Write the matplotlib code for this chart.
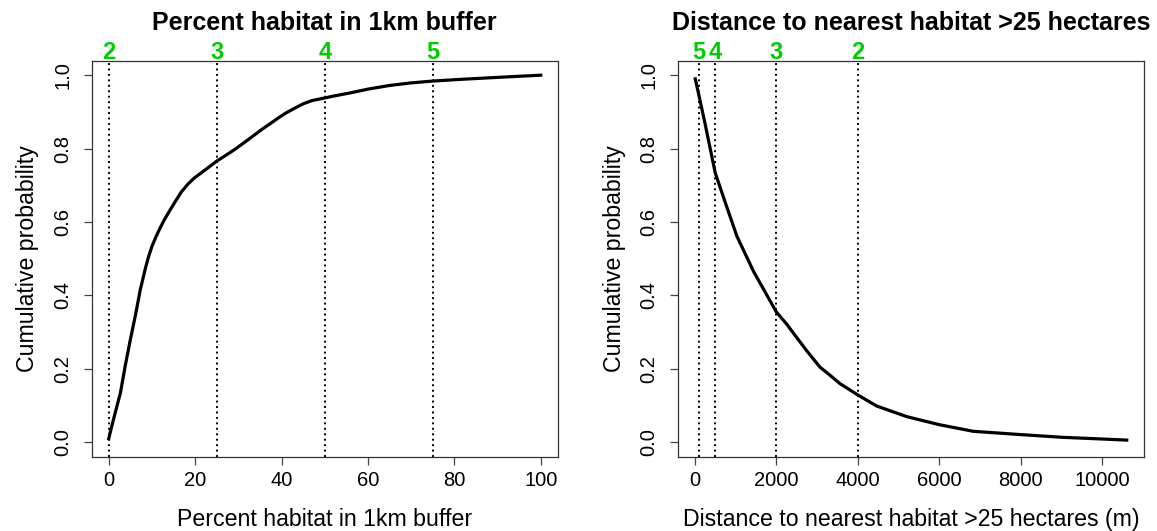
import numpy as np
import matplotlib
matplotlib.use("Agg")
import matplotlib.pyplot as plt

plt.rcParams['font.family'] = ['Liberation Sans', 'DejaVu Sans']

# left panel: percent habitat in 1km buffer
pct_x = [0, 0.5, 1.5, 2.7, 3.8, 5, 6.2, 7.3, 8.5, 9.2, 10, 11, 11.9, 12.8,
         13.8, 15.4, 16.8, 18.3, 19.8, 21.4, 23, 25, 27, 29.2, 32, 35.4,
         37.5, 39.3, 41, 43.2, 45, 47.1, 50, 52, 56, 60, 65, 70, 75, 82, 90, 100]
pct_y = [0.01, 0.035, 0.081, 0.135, 0.208, 0.28, 0.348, 0.416, 0.475, 0.505,
         0.534, 0.562, 0.584, 0.605, 0.625, 0.656, 0.682, 0.703, 0.72, 0.734,
         0.748, 0.766, 0.781, 0.798, 0.822, 0.852, 0.869, 0.884, 0.897, 0.911,
         0.922, 0.931, 0.938, 0.943, 0.952, 0.962, 0.972, 0.979, 0.984, 0.989,
         0.994, 1.0]
pct_cuts = [0, 25, 50, 75]
pct_cut_labels = ['2', '3', '4', '5']

# right panel: distance to nearest habitat >25 ha
dist_x = [10, 100, 250, 500, 750, 1033, 1443, 2000, 2250, 2496, 2741, 3069,
          3314, 3560, 4000, 4460, 5200, 6000, 6833, 8000, 9040, 10000, 10600]
dist_y = [0.99, 0.945, 0.868, 0.734, 0.652, 0.561, 0.465, 0.355, 0.3225,
          0.286, 0.25, 0.205, 0.183, 0.16, 0.129, 0.099, 0.07, 0.048, 0.03,
          0.021, 0.0135, 0.009, 0.006]
dist_cuts = [100, 500, 2000, 4000]
dist_cut_labels = ['5', '4', '3', '2']

GREEN = '#00CD00'
W, H = 1157, 531
fig = plt.figure(figsize=(W / 100, H / 100), dpi=100)


def panel(rect, x, y, cuts, cut_labels, xticks, title, xlabel):
    ax = fig.add_axes(rect)
    ax.plot(x, y, color='black', lw=2.3, solid_joinstyle='round')
    for c, lab in zip(cuts, cut_labels):
        ax.axvline(c, color='black', lw=1.4, linestyle=(0, (1, 1.8)))
        ax.text(c, 1.043, lab, color=GREEN, fontsize=17, fontweight='bold',
                ha='center', va='baseline')
    xmin, xmax = min(x), max(x)
    r = xmax - xmin
    ax.set_xlim(xmin - 0.04 * r, xmax + 0.04 * r)
    ax.set_ylim(-0.04, 1.04)
    ax.set_xticks(xticks)
    ax.set_yticks([0, 0.2, 0.4, 0.6, 0.8, 1.0])
    ax.set_yticklabels(['0.0', '0.2', '0.4', '0.6', '0.8', '1.0'],
                       rotation=90, va='center')
    ax.tick_params(length=6, width=0.9, labelsize=14.5, color='#444444')
    ax.tick_params(axis='x', pad=4)
    ax.tick_params(axis='y', pad=8)
    for s in ax.spines.values():
        s.set_linewidth(0.9)
        s.set_color('#333333')
    ax.set_title(title, fontsize=18, fontweight='bold', pad=21.6)
    ax.set_xlabel(xlabel, fontsize=16.7, labelpad=13)
    ax.set_ylabel('Cumulative probability', fontsize=16.7, labelpad=10)
    return ax


bot = (H - 457) / H
hgt = (457 - 60.5) / H
panel([91.5 / W, bot, (558 - 91.5) / W, hgt], pct_x, pct_y, pct_cuts,
      pct_cut_labels, [0, 20, 40, 60, 80, 100],
      'Percent habitat in 1km buffer', 'Percent habitat in 1km buffer')
panel([678 / W, bot, (1144 - 678) / W, hgt], dist_x, dist_y, dist_cuts,
      dist_cut_labels, [0, 2000, 4000, 6000, 8000, 10000],
      'Distance to nearest habitat >25 hectares',
      'Distance to nearest habitat >25 hectares (m)')

fig.savefig('out.png', dpi=100)
